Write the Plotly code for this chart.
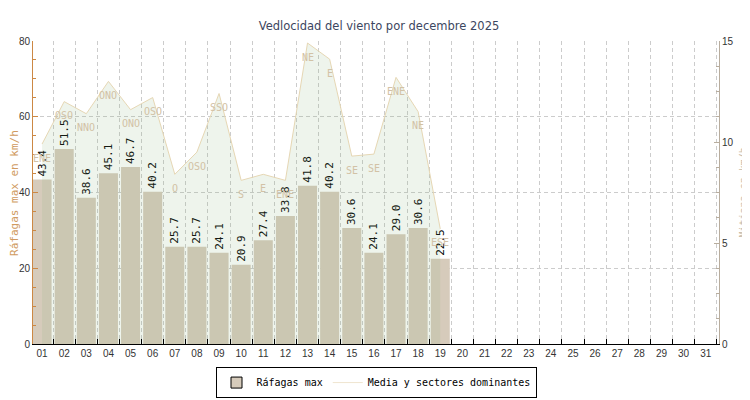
import plotly.graph_objects as go

# dias del mes (eje x)
dias = ["%02d" % d for d in range(1, 32)]

# rafagas maximas (km/h), dias 01..19
rafagas = [43.4, 51.5, 38.6, 45.1, 46.7, 40.2, 25.7, 25.7, 24.1, 20.9,
           27.4, 33.8, 41.8, 40.2, 30.6, 24.1, 29.0, 30.6, 22.5]

# velocidad media (km/h), eje derecho
media = [9.9, 12.0, 11.4, 13.0, 11.6, 12.2, 8.4, 9.5, 12.4, 8.1,
         8.4, 8.1, 14.9, 14.1, 9.3, 9.4, 13.2, 11.5, 5.7]

# sector dominante de cada dia
sectores = ["ENE", "OSO", "NNO", "ONO", "ONO", "OSO", "O", "OSO", "SSO", "S",
            "E", "ENE", "NE", "E", "SE", "SE", "ENE", "NE", "ESE"]

dias_datos = dias[:len(rafagas)]

mono = "DejaVu Sans Mono"
beige = "#d6cbbb"
naranja = "#cc8844"
gris_eje = "#b8ad9e"

fig = go.Figure()

fig.add_trace(
    go.Bar(
        x=dias_datos,
        y=rafagas,
        width=0.86,
        marker=dict(color=beige, line=dict(width=0)),
        text=["%.1f" % v for v in rafagas],
        textposition="outside",
        textangle=-90,
        constraintext="none",
        textfont=dict(family=mono, size=11, color="#000000"),
        cliponaxis=False,
        showlegend=False,
        hoverinfo="skip"
    )
)

fig.add_trace(
    go.Scatter(
        x=dias_datos,
        y=media,
        yaxis="y2",
        mode="lines",
        line=dict(color="#e6d7b4", width=1),
        fill="tozeroy",
        fillcolor="rgba(140,180,125,0.15)",
        showlegend=False,
        hoverinfo="skip"
    )
)

# sectores dominantes, debajo de cada punto
# (posicion por indice: en ejes de categoria "01" se leeria como numero)
for d, v, s in zip(dias_datos, media, sectores):
    fig.add_annotation(
        x=dias.index(d),
        y=v,
        xref="x",
        yref="y2",
        text=s,
        showarrow=False,
        yshift=-14,
        font=dict(family=mono, size=10, color="#d2c2a6")
    )

# titulos de los ejes
fig.add_annotation(
    x=-0.027, y=0.5, xref="paper", yref="paper",
    text="Ráfagas max en km/h", textangle=-90, showarrow=False,
    xanchor="center", yanchor="middle",
    font=dict(family=mono, size=11, color="#d09a60")
)
fig.add_annotation(
    x=1.035, y=0.5, xref="paper", yref="paper",
    text="Mitjana en km/h", textangle=-90, showarrow=False,
    xanchor="center", yanchor="middle",
    font=dict(family=mono, size=10, color="#c8baa8")
)

# entradas de leyenda
fig.add_trace(
    go.Scatter(
        x=[None],
        y=[None],
        mode="markers",
        marker=dict(symbol="square", size=11, color=beige,
                    line=dict(color="#000000", width=1)),
        name="Ráfagas max"
    )
)
fig.add_trace(
    go.Scatter(
        x=[None],
        y=[None],
        mode="lines",
        line=dict(color="#efe5cf", width=1),
        name="Media y sectores dominantes"
    )
)

# la pagina deja 8px de margen en el body: figura algo mas pequena
fig.update_layout(
    width=742,
    height=392,
    margin=dict(l=25, r=31, t=33, b=56),
    paper_bgcolor="white",
    plot_bgcolor="white",
    title=dict(
        text="Vedlocidad del viento por decembre 2025",
        x=0.5,
        xanchor="center",
        y=0.955,
        yanchor="middle",
        font=dict(family="DejaVu Sans", size=11.5, color="#3c4660")
    ),
    xaxis=dict(
        type="category",
        categoryorder="array",
        categoryarray=dias,
        range=[-0.41, 30.6],
        tickson="boundaries",
        ticks="inside",
        ticklen=5,
        tickcolor="#000000",
        showline=True,
        linecolor="#000000",
        linewidth=1,
        showgrid=True,
        gridcolor="#cccccc",
        griddash="4px,3px",
        gridwidth=1,
        automargin=False,
        tickfont=dict(family="Liberation Sans", size=10, color="#333333"),
        fixedrange=True
    ),
    yaxis=dict(
        range=[0, 80],
        dtick=20,
        ticks="inside",
        ticklen=5,
        tickcolor=naranja,
        showline=True,
        linecolor=naranja,
        linewidth=1,
        showgrid=True,
        gridcolor="#cccccc",
        griddash="4px,3px",
        zeroline=False,
        automargin=False,
        minor=dict(dtick=5, ticks="inside", ticklen=3, tickcolor=naranja,
                   showgrid=False),
        tickfont=dict(family="Liberation Sans", size=10, color="#333333")
    ),
    yaxis2=dict(
        overlaying="y",
        side="right",
        range=[0, 15],
        dtick=5,
        ticks="inside",
        ticklen=5,
        tickcolor=gris_eje,
        showline=True,
        linecolor=gris_eje,
        linewidth=1,
        showgrid=False,
        zeroline=False,
        automargin=False,
        minor=dict(dtick=1.25, ticks="inside", ticklen=3, tickcolor=gris_eje,
                   showgrid=False),
        tickfont=dict(family="Liberation Sans", size=10, color="#333333")
    ),
    legend=dict(
        orientation="h",
        x=0.5,
        xanchor="center",
        xref="paper",
        y=0.084,
        yref="container",
        yanchor="top",
        bordercolor="#000000",
        borderwidth=1,
        bgcolor="white",
        itemwidth=30,
        font=dict(family=mono, size=10, color="#000000")
    )
)

fig.write_html("out.html")
